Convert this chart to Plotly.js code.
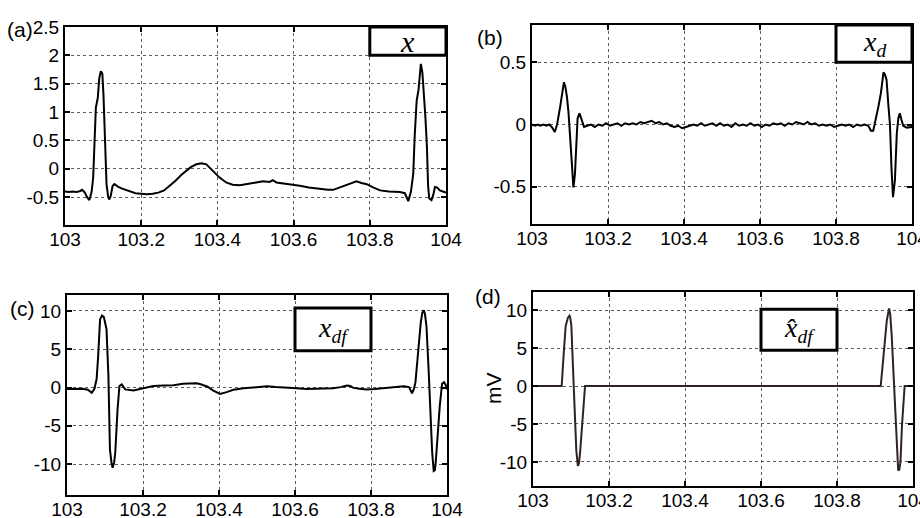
<!DOCTYPE html>
<html>
<head>
<meta charset="utf-8">
<script src="https://cdn.plot.ly/plotly-3.0.1.min.js"></script>
<style>html,body{margin:0;padding:0;background:#fff;}#chart{width:920px;height:518px;}</style>
</head>
<body>
<div id="chart"></div>
<script>
// ---- data ----
const xTickVals = [103, 103.2, 103.4, 103.6, 103.8, 104];
const xTickText = ["103", "103.2", "103.4", "103.6", "103.8", "104"];

// (a) x
const tA = [103.000,103.010,103.020,103.030,103.040,103.045,103.052,103.058,103.064,103.070,103.074,103.078,103.081,103.086,103.090,103.094,103.098,103.101,103.105,103.109,103.113,103.116,103.120,103.125,103.130,103.140,103.150,103.160,103.170,103.185,103.200,103.215,103.230,103.245,103.260,103.275,103.290,103.305,103.318,103.330,103.345,103.358,103.371,103.383,103.393,103.405,103.423,103.440,103.459,103.480,103.500,103.520,103.537,103.545,103.555,103.580,103.600,103.616,103.640,103.669,103.690,103.704,103.720,103.739,103.755,103.765,103.778,103.792,103.810,103.827,103.850,103.879,103.892,103.901,103.908,103.914,103.918,103.923,103.928,103.934,103.938,103.941,103.946,103.950,103.953,103.956,103.962,103.967,103.971,103.977,103.984,103.992,104.000];
const vA = [-0.40,-0.41,-0.40,-0.41,-0.39,-0.37,-0.42,-0.50,-0.55,-0.40,-0.15,0.60,1.08,1.25,1.60,1.72,1.68,1.30,0.49,-0.27,-0.48,-0.54,-0.48,-0.30,-0.27,-0.32,-0.35,-0.37,-0.40,-0.43,-0.44,-0.45,-0.44,-0.42,-0.38,-0.30,-0.21,-0.11,-0.03,0.03,0.08,0.10,0.08,0.00,-0.07,-0.15,-0.24,-0.28,-0.29,-0.27,-0.24,-0.22,-0.23,-0.20,-0.24,-0.26,-0.28,-0.30,-0.33,-0.36,-0.37,-0.37,-0.33,-0.29,-0.25,-0.22,-0.25,-0.27,-0.33,-0.38,-0.40,-0.41,-0.43,-0.57,-0.40,-0.09,0.60,1.20,1.40,1.85,1.70,1.44,0.90,0.38,-0.30,-0.52,-0.55,-0.45,-0.32,-0.33,-0.38,-0.40,-0.42];

// (b) x_d
const tB = [103.000,103.008,103.015,103.022,103.030,103.038,103.045,103.052,103.060,103.066,103.074,103.080,103.084,103.088,103.092,103.096,103.100,103.104,103.107,103.109,103.113,103.116,103.120,103.125,103.131,103.137,103.145,103.155,103.165,103.175,103.185,103.195,103.205,103.215,103.225,103.235,103.245,103.255,103.265,103.275,103.285,103.295,103.305,103.315,103.325,103.335,103.345,103.355,103.365,103.375,103.385,103.395,103.405,103.415,103.425,103.435,103.445,103.455,103.465,103.475,103.485,103.495,103.505,103.515,103.525,103.535,103.545,103.555,103.565,103.575,103.585,103.595,103.605,103.615,103.625,103.635,103.645,103.655,103.665,103.675,103.685,103.695,103.705,103.715,103.725,103.735,103.745,103.755,103.765,103.775,103.785,103.795,103.805,103.815,103.825,103.835,103.845,103.855,103.865,103.875,103.885,103.892,103.898,103.903,103.907,103.912,103.918,103.922,103.925,103.929,103.933,103.938,103.942,103.946,103.950,103.955,103.960,103.964,103.968,103.972,103.977,103.986,104.000];
const vB = [0.00,-0.01,0.00,-0.01,0.00,-0.01,0.00,-0.02,-0.06,0.00,0.14,0.26,0.34,0.30,0.22,0.10,-0.07,-0.29,-0.45,-0.505,-0.40,-0.15,0.05,0.09,0.035,-0.02,-0.01,0.00,-0.02,0.00,-0.01,0.01,-0.01,0.00,0.01,-0.01,0.01,0.00,0.01,0.00,0.02,0.01,0.02,0.03,0.01,0.02,0.00,0.01,-0.01,-0.02,-0.01,-0.03,-0.02,-0.01,0.00,-0.01,0.01,-0.01,0.00,0.01,-0.01,0.01,-0.01,0.00,-0.02,0.01,-0.01,0.00,-0.01,0.01,-0.01,0.00,-0.02,0.00,-0.01,0.01,0.00,0.01,-0.01,0.01,0.00,0.02,0.01,0.00,0.02,0.00,0.01,-0.01,0.00,-0.01,0.00,-0.02,-0.01,0.00,-0.01,0.00,-0.02,0.00,-0.01,0.00,-0.01,-0.05,-0.05,0.02,0.06,0.15,0.25,0.38,0.42,0.40,0.36,0.15,0.00,-0.35,-0.585,-0.45,-0.07,0.05,0.09,0.04,-0.01,-0.025,-0.02];

// (c) x_df
const tC = [103.000,103.020,103.040,103.055,103.065,103.072,103.078,103.082,103.087,103.092,103.097,103.101,103.104,103.109,103.113,103.117,103.120,103.124,103.127,103.133,103.138,103.144,103.153,103.175,103.200,103.227,103.255,103.280,103.305,103.324,103.340,103.350,103.370,103.385,103.403,103.420,103.438,103.465,103.490,103.510,103.526,103.550,103.578,103.605,103.630,103.665,103.700,103.720,103.737,103.745,103.754,103.770,103.789,103.810,103.833,103.860,103.886,103.900,103.908,103.913,103.917,103.922,103.926,103.931,103.935,103.939,103.942,103.946,103.952,103.957,103.961,103.965,103.968,103.970,103.976,103.981,103.987,103.992,103.996,104.000];
const vC = [-0.2,-0.2,-0.15,-0.3,-0.7,-0.2,1.1,4.1,8.9,9.4,9.2,8.3,7.6,1.5,-8.1,-9.8,-10.5,-9.8,-8.5,-2.9,0.2,0.4,-0.25,-0.4,-0.1,0.2,0.25,0.3,0.5,0.55,0.55,0.45,0.1,-0.4,-0.85,-0.6,-0.3,-0.1,0.0,0.15,0.15,0.05,0.0,-0.1,-0.2,-0.15,-0.1,0.05,0.25,0.2,-0.05,-0.15,-0.25,-0.2,-0.1,0.05,0.15,0.05,-0.75,-0.2,0.7,3.5,5.8,8.5,9.75,10.1,9.6,8.0,1.9,-4.2,-8.5,-10.9,-10.8,-10.0,-5.0,-2.4,0.5,0.7,0.4,-0.25];

// (d) x̂_df
const tD = [103.000,103.0755,103.081,103.086,103.092,103.096,103.098,103.101,103.105,103.110,103.114,103.118,103.121,103.124,103.130,103.135,103.137,103.915,103.922,103.927,103.931,103.937,103.940,103.944,103.948,103.953,103.957,103.961,103.964,103.967,103.971,103.976,103.978,104.000];
const vD = [0,0,4.4,7.9,9.0,9.25,9.0,7.9,2.7,-3.9,-8.5,-10.5,-10.2,-8.7,-4.3,-0.35,0,0,4.0,6.8,8.6,10.2,9.5,6.6,2.2,-3.0,-8.5,-11.1,-11.0,-10.0,-5.2,-2.2,0,0];

const yTicksA = [-0.5, 0, 0.5, 1, 1.5, 2, 2.5];
const yTicksB = [-0.5, 0, 0.5];
const yTicksCD = [-10, -5, 0, 5, 10];

// ---- styling ----
const W = 920, H = 518;
const sansFam = "Liberation Sans, Arial, sans-serif";
const tickFont = {family: sansFam, size: 19, color: "#000"};
const gridCol = "#5c5c5c";
function px2fx(p){ return p / W; }
function py2fy(p){ return 1 - p / H; }

function xax(domain, anchor){
  return {
    domain: domain, anchor: anchor, range: [103, 104], tickvals: xTickVals, ticktext: xTickText,
    showgrid: true, gridcolor: gridCol, griddash: "dot", gridwidth: 1,
    showline: true, linecolor: "#000", linewidth: 2, mirror: "ticks",
    ticks: "inside", ticklen: 5, tickwidth: 2, tickcolor: "#000",
    zeroline: false, tickfont: tickFont, ticklabeloverflow: "allow",
    ticklabelstandoff: -4, fixedrange: true
  };
}
function yax(domain, anchor, range, tv){
  return {
    domain: domain, anchor: anchor, range: range, tickvals: tv, ticktext: tv.map(String),
    showgrid: true, gridcolor: gridCol, griddash: "dot", gridwidth: 1,
    showline: true, linecolor: "#000", linewidth: 2, mirror: "ticks",
    ticks: "inside", ticklen: 5, tickwidth: 2, tickcolor: "#000",
    zeroline: false, tickfont: tickFont, ticklabeloverflow: "allow",
    ticklabelstandoff: 0, fixedrange: true
  };
}

const lineStyle = {color: "#000", width: 2};
const traces = [
  {x: tA, y: vA, xaxis: "x", yaxis: "y", mode: "lines", line: lineStyle, hoverinfo: "skip"},
  {x: tB, y: vB, xaxis: "x2", yaxis: "y2", mode: "lines", line: lineStyle, hoverinfo: "skip"},
  {x: tC, y: vC, xaxis: "x3", yaxis: "y3", mode: "lines", line: lineStyle, hoverinfo: "skip"},
  {x: tD, y: vD, xaxis: "x4", yaxis: "y4", mode: "lines", line: {color: "#2e2420", width: 2}, hoverinfo: "skip"}
];

const serifFam = "Liberation Serif, Times New Roman, serif";
const panelFont = {family: sansFam, size: 21, color: "#000"};

function box(xr, yr, x0, x1, y0, y1){
  return {type: "rect", xref: xr, yref: yr, x0: x0, x1: x1, y0: y0, y1: y1,
          line: {color: "#000", width: 3}, fillcolor: "#fff", layer: "above"};
}

const layout = {
  width: W, height: H, margin: {l: 0, r: 0, t: 0, b: 0},
  paper_bgcolor: "#fff", plot_bgcolor: "#fff", showlegend: false,
  xaxis:  xax([px2fx(65), px2fx(446)], "y"),
  yaxis:  yax([py2fy(225), py2fy(27)], "x", [-0.99, 2.5], yTicksA),
  xaxis2: xax([px2fx(532), px2fx(912)], "y2"),
  yaxis2: yax([py2fy(224), py2fy(25)], "x2", [-0.8, 0.8], yTicksB),
  xaxis3: xax([px2fx(67), px2fx(447)], "y3"),
  yaxis3: yax([py2fy(495), py2fy(295)], "x3", [-14.05, 12.09], yTicksCD),
  xaxis4: xax([px2fx(533), px2fx(913)], "y4"),
  yaxis4: yax([py2fy(486), py2fy(292)], "x4", [-13.16, 12.37], yTicksCD),
  shapes: [
    box("x", "y", 103.8, 104, 2.0, 2.5),
    box("x2", "y2", 103.8, 104, 0.5, 0.8),
    box("x3", "y3", 103.6, 103.8, 4.8, 10.4),
    box("x4", "y4", 103.6, 103.8, 4.7, 10.1)
  ],
  annotations: [
    {xref: "x", yref: "y", x: 103.9, y: 2.25, text: "<i>x</i>", showarrow: false, font: {family: serifFam, size: 30, color: "#000"}},
    {xref: "x2", yref: "y2", x: 103.9, y: 0.65, text: "<i>x</i><sub><i>d</i></sub>", showarrow: false, font: {family: serifFam, size: 28, color: "#000"}},
    {xref: "x3", yref: "y3", x: 103.7, y: 7.6, text: "<i>x</i><sub><i>df</i></sub>", showarrow: false, font: {family: serifFam, size: 28, color: "#000"}},
    {xref: "x4", yref: "y4", x: 103.7, y: 7.4, text: "<i>x\u0302</i><sub><i>df</i></sub>", showarrow: false, font: {family: serifFam, size: 28, color: "#000"}},
    {xref: "paper", yref: "paper", x: px2fx(20), y: py2fy(30), text: "(a)", showarrow: false, font: panelFont, xanchor: "center", yanchor: "middle"},
    {xref: "paper", yref: "paper", x: px2fx(490), y: py2fy(38), text: "(b)", showarrow: false, font: panelFont, xanchor: "center", yanchor: "middle"},
    {xref: "paper", yref: "paper", x: px2fx(22), y: py2fy(308), text: "(c)", showarrow: false, font: panelFont, xanchor: "center", yanchor: "middle"},
    {xref: "paper", yref: "paper", x: px2fx(488), y: py2fy(296), text: "(d)", showarrow: false, font: panelFont, xanchor: "center", yanchor: "middle"},
    {xref: "paper", yref: "paper", x: px2fx(493), y: py2fy(388), text: "mV", textangle: -90, showarrow: false, font: panelFont, xanchor: "center", yanchor: "middle"}
  ]
};

Plotly.newPlot("chart", traces, layout, {staticPlot: true, displayModeBar: false});
</script>
</body>
</html>
